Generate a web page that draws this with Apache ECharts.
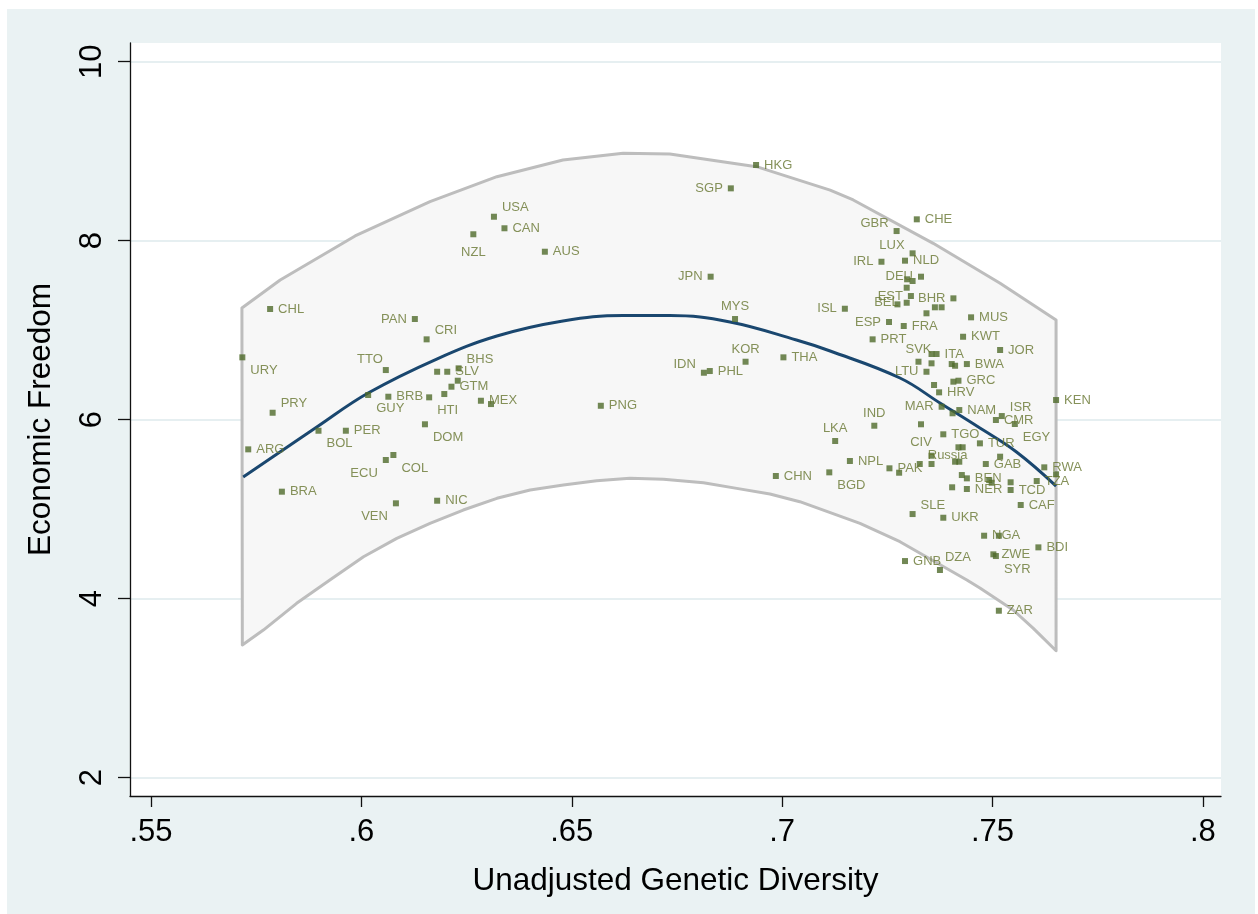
<!DOCTYPE html>
<html>
<head>
<meta charset="utf-8">
<title>Economic Freedom and Genetic Diversity</title>
<script src="https://cdn.jsdelivr.net/npm/echarts@6/dist/echarts.min.js"></script>
<style>
  html, body { margin: 0; padding: 0; background: #ffffff; }
  #frame { position: absolute; left: 7px; top: 9px; width: 1248px; height: 905px; background: #eaf2f3; }
  #chart { position: absolute; left: 0; top: 0; width: 1258px; height: 914px; }
</style>
</head>
<body>
<div id="frame"></div>
<div id="chart"></div>
<script>
'use strict';

// countries ('' = marker whose label is hidden under a neighbour)
var countries = [
    'CHL', 'URY', 'PRY', 'ARG', 'BRA', 'BOL', 'PER', 'GUY', 'TTO', 'ECU',
    'BRB', 'COL', 'VEN', 'PAN', 'DOM', 'CRI', 'HTI', '', 'NIC', '',
    'SLV', 'GTM', '', 'BHS', 'NZL', 'MEX', '', 'USA', 'CAN', 'AUS',
    'PNG', 'IDN', 'PHL', 'JPN', 'SGP', 'MYS', 'KOR', 'HKG', 'CHN', 'THA',
    'BGD', 'LKA', 'ISL', 'NPL', 'PRT', 'IND', 'IRL', 'ESP', 'PAK', 'GBR',
    '', '', 'FRA', 'NLD', 'GNB', '', 'BEL', '', 'EST', 'LUX',
    '', 'SLE', 'CHE', 'SVK', 'Russia', 'DEU', 'CIV', '', 'LTU', '',
    '', '', '', '', '', 'ITA', 'HRV', 'DZA', 'MAR', '',
    'TGO', 'UKR', '', '', '', 'BHR', '', '', '', 'GRC',
    '', 'NAM', '', '', '', 'KWT', 'BWA', 'BEN', 'NER', 'MUS',
    'TUR', 'NGA', 'GAB', '', '', 'ZWE', 'CMR', 'SYR', '', 'ZAR',
    'JOR', '', 'ISR', 'TCD', '', 'EGY', 'CAF', 'TZA', 'BDI', 'RWA',
    'KEN', ''
];
var diversity = [
    0.5783, 0.5717, 0.5789, 0.5731, 0.5811, 0.5898, 0.5963, 0.6016, 0.6058, 0.6058,
    0.6064, 0.6076, 0.6082, 0.6127, 0.6151, 0.6155, 0.6161, 0.6180, 0.6180, 0.6197,
    0.6204, 0.6214, 0.6229, 0.6231, 0.6266, 0.6284, 0.6308, 0.6315, 0.6340, 0.6436,
    0.6569, 0.6814, 0.6828, 0.6830, 0.6878, 0.6888, 0.6913, 0.6938, 0.6985, 0.7003,
    0.7112, 0.7126, 0.7149, 0.7161, 0.7215, 0.7219, 0.7236, 0.7254, 0.7255, 0.7272,
    0.7274, 0.7278, 0.7289, 0.7292, 0.7292, 0.7296, 0.7296, 0.7297, 0.7306, 0.7310,
    0.7310, 0.7310, 0.7320, 0.7324, 0.7327, 0.7330, 0.7330, 0.7343, 0.7343, 0.7355,
    0.7355, 0.7355, 0.7355, 0.7361, 0.7363, 0.7367, 0.7373, 0.7375, 0.7379, 0.7379,
    0.7383, 0.7383, 0.7403, 0.7404, 0.7405, 0.7407, 0.7407, 0.7411, 0.7411, 0.7419,
    0.7419, 0.7421, 0.7421, 0.7427, 0.7429, 0.7430, 0.7439, 0.7439, 0.7439, 0.7449,
    0.7470, 0.7480, 0.7484, 0.7492, 0.7498, 0.7502, 0.7508, 0.7508, 0.7515, 0.7515,
    0.7518, 0.7518, 0.7522, 0.7543, 0.7543, 0.7553, 0.7567, 0.7605, 0.7609, 0.7623,
    0.7651, 0.7651
];
var freedom = [
    7.237, 6.697, 6.078, 5.669, 5.196, 5.877, 5.877, 6.276, 6.555, 5.550,
    6.257, 5.606, 5.066, 7.125, 5.949, 6.898, 6.250, 6.536, 5.095, 6.287,
    6.536, 6.369, 6.436, 6.574, 8.072, 6.212, 6.175, 8.268, 8.139, 7.877,
    6.156, 6.525, 6.544, 7.598, 8.585, 7.125, 6.648, 8.846, 5.371, 6.697,
    5.412, 5.762, 7.240, 5.539, 6.898, 5.933, 7.765, 7.092, 5.457, 8.108,
    7.289, 5.408, 7.047, 7.777, 4.421, 7.475, 7.307, 7.569, 7.382, 7.859,
    7.550, 4.946, 8.239, 6.648, 5.505, 7.598, 5.949, 7.189, 6.536, 6.734,
    6.630, 5.598, 5.505, 6.388, 7.256, 6.734, 6.306, 4.321, 6.145, 7.256,
    5.837, 4.905, 6.622, 5.245, 6.072, 7.356, 6.425, 6.603, 5.531, 6.436,
    5.692, 6.108, 5.531, 5.382, 5.692, 6.927, 6.622, 5.345, 5.226, 7.144,
    5.736, 4.704, 5.505, 5.326, 5.296, 4.496, 5.997, 4.477, 4.704, 3.866,
    6.779, 5.587, 6.041, 5.215, 5.301, 5.952, 5.047, 5.315, 4.574, 5.468,
    6.220, 5.390
];

// quadratic fit line and its confidence band
var fitX = [0.5719, 0.5894, 0.6016, 0.6179, 0.6322, 0.6479, 0.6622, 0.6733,
            0.6876, 0.7034, 0.7114, 0.7280, 0.7375, 0.7470, 0.7557, 0.7651];
var fitY = [5.360, 5.918, 6.298, 6.678, 6.935, 7.103, 7.164, 7.164,
            7.092, 6.890, 6.768, 6.466, 6.187, 5.907, 5.639, 5.259];
var upperX = [0.5716, 0.5807, 0.5985, 0.6163, 0.6322, 0.6479, 0.6622,
              0.6733, 0.6939, 0.7114, 0.7169, 0.7359, 0.7518, 0.7651];
var upperY = [7.248, 7.561, 8.053, 8.436, 8.715, 8.902, 8.977,
              8.969, 8.827, 8.566, 8.455, 7.971, 7.524, 7.114];
var lowerX = [0.5717, 0.5767, 0.5846, 0.5925, 0.6005, 0.6084, 0.6163, 0.6242, 0.6322,
              0.6401, 0.6480, 0.6559, 0.6638, 0.6718, 0.6813, 0.6892, 0.6971, 0.7042,
              0.7185, 0.7280, 0.7439, 0.7470, 0.7549, 0.7597, 0.7651];
var lowerY = [3.483, 3.650, 3.949, 4.209, 4.469, 4.675, 4.842, 4.991, 5.122,
              5.215, 5.270, 5.318, 5.345, 5.334, 5.296, 5.233, 5.170, 5.084,
              4.842, 4.637, 4.209, 4.120, 3.874, 3.669, 3.419];

var xTicks = [0.55, 0.6, 0.65, 0.7, 0.75, 0.8];
var xTickLabels = ['.55', '.6', '.65', '.7', '.75', '.8'];
var yTicks = [2, 4, 6, 8, 10];
var yTickLabels = ['2', '4', '6', '8', '10'];

// clock position of each marker label, 3 o'clock when not listed
var labelClock = {
    URY: 4, PRY: 2, CRI: 2, TTO: 11, GUY: 4, HTI: 4, BOL: 4, DOM: 4, COL: 4,
    ECU: 7, VEN: 7, PAN: 9, BHS: 2, USA: 2, NZL: 6, SGP: 9, JPN: 9, MYS: 12,
    KOR: 12, IDN: 10, GBR: 10, LUX: 10, IRL: 9, DEU: 9, EST: 9, BEL: 9,
    BHR: 9, ISL: 9, ESP: 9, SVK: 12, LTU: 9, MAR: 9, ISR: 2, EGY: 4,
    IND: 12, LKA: 12, CIV: 6, Russia: 2, BGD: 4, SLE: 2, SYR: 4, DZA: 1
};

var FONT = '"Liberation Sans", Arial, Helvetica, sans-serif';

var clockStyle = {
    1: {position: 'right', offset: [-3, -13]},
    2: {position: 'right', offset: [0, -9]},
    3: {position: 'right', offset: [0, 0]},
    4: {position: 'right', offset: [0, 13]},
    6: {position: 'bottom', offset: [0, 4]},
    7: {position: 'left', offset: [0, 13]},
    9: {position: 'left', offset: [0, 0]},
    10: {position: 'left', offset: [0, -8]},
    11: {position: 'left', offset: [5, -11]},
    12: {position: 'top', offset: [0, 2]}
};

function tickText(ticks, labels) {
    return function (v) {
        for (var i = 0; i < ticks.length; i++) {
            if (Math.abs(ticks[i] - v) < 1e-9) {
                return labels[i];
            }
        }
        return '';
    };
}

var points = countries.map(function (name, i) {
    var c = clockStyle[labelClock[name] || 3];
    return {
        name: name,
        value: [diversity[i], freedom[i]],
        label: {position: c.position, offset: c.offset}
    };
});

var fitData = fitX.map(function (x, i) {
    return [x, fitY[i]];
});

function renderBand(params, api) {
    var pts = [];
    for (var i = 0; i < upperX.length; i++) {
        pts.push(api.coord([upperX[i], upperY[i]]));
    }
    for (var j = lowerX.length - 1; j >= 0; j--) {
        pts.push(api.coord([lowerX[j], lowerY[j]]));
    }
    return {
        type: 'polygon',
        shape: {points: pts},
        style: {fill: '#f7f7f7', stroke: '#bdbdbd', lineWidth: 3, lineJoin: 'round'}
    };
}

var axisColor = '#111111';

var chart = echarts.init(document.getElementById('chart'));
chart.setOption({
    animation: false,
    backgroundColor: 'transparent',
    grid: {
        left: 130,
        top: 43,
        width: 1091,
        height: 753,
        show: true,
        backgroundColor: '#ffffff',
        borderWidth: 0
    },
    xAxis: {
        type: 'value',
        min: 0.545,
        max: 0.8043,
        name: 'Unadjusted Genetic Diversity',
        nameLocation: 'middle',
        nameGap: 69,
        nameTextStyle: {fontFamily: FONT, fontSize: 31.5, color: '#000'},
        axisLine: {onZero: false, lineStyle: {color: axisColor, width: 1.3}},
        axisTick: {customValues: xTicks, length: 11, lineStyle: {color: axisColor, width: 1.3}},
        axisLabel: {
            customValues: xTicks,
            formatter: tickText(xTicks, xTickLabels),
            fontFamily: FONT,
            fontSize: 31,
            color: '#000',
            margin: 21
        },
        splitLine: {show: false}
    },
    yAxis: {
        type: 'value',
        min: 1.796,
        max: 10.209,
        name: 'Economic Freedom',
        nameLocation: 'middle',
        nameGap: 73,
        nameRotate: 90,
        nameTextStyle: {fontFamily: FONT, fontSize: 31.5, color: '#000'},
        axisLine: {onZero: false, lineStyle: {color: axisColor, width: 1.3}},
        axisTick: {customValues: yTicks, length: 12, lineStyle: {color: axisColor, width: 1.3}},
        axisLabel: {
            customValues: yTicks,
            formatter: tickText(yTicks, yTickLabels),
            rotate: 90,
            fontFamily: FONT,
            fontSize: 31,
            color: '#000',
            margin: 22
        },
        splitLine: {show: true, lineStyle: {color: '#e6eff1', width: 2}}
    },
    series: [
        {
            name: 'band',
            type: 'custom',
            renderItem: renderBand,
            data: [[upperX[0], upperY[0]]],
            silent: true,
            z: 1
        },
        {
            name: 'fit',
            type: 'line',
            data: fitData,
            smooth: 0.4,
            showSymbol: false,
            lineStyle: {color: '#1a476f', width: 3},
            silent: true,
            z: 2
        },
        {
            name: 'countries',
            type: 'scatter',
            data: points,
            symbol: 'rect',
            symbolSize: [6, 6],
            itemStyle: {color: '#4f6a2b'},
            label: {
                show: true,
                formatter: '{b}',
                fontFamily: FONT,
                fontSize: 13,
                color: '#66752f',
                distance: 5
            },
            z: 3
        }
    ]
});
</script>
</body>
</html>
